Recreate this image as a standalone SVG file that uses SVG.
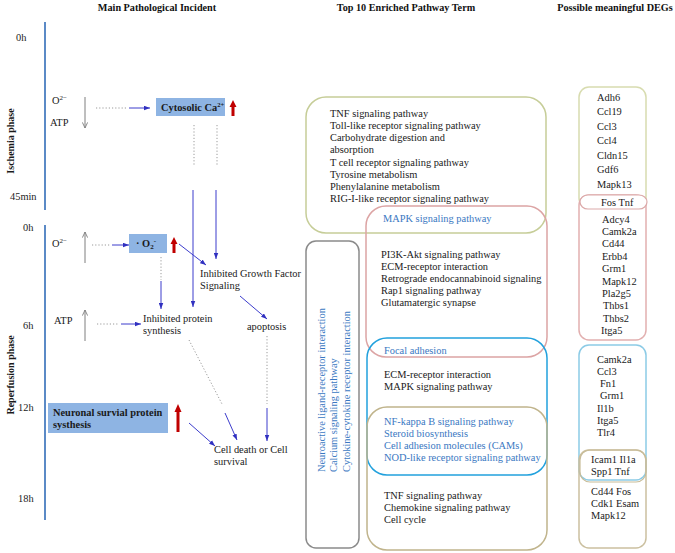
<svg xmlns="http://www.w3.org/2000/svg" width="675" height="553" viewBox="0 0 675 553">
<defs>
<style>
.t{font-family:"Liberation Serif","Times New Roman",serif;font-size:10.4px;fill:#1a1a1a}
.b{font-weight:bold}
.ttl{font-family:"Liberation Serif","Times New Roman",serif;font-size:10.2px;font-weight:bold;fill:#111}
.bl{fill:#3a78c2}
.axis{stroke:#5b8ac6;stroke-width:2;fill:none}
.bx{fill:#8eb4e3}
.red{fill:#c00000}
.dot{stroke:#9a9a9a;stroke-width:1;stroke-dasharray:1.2 2;fill:none}
.arr{stroke:#3d3dcc;stroke-width:1;fill:none;marker-end:url(#ah)}
.gar{stroke:#7f7f7f;stroke-width:1;fill:none;marker-end:url(#gh)}
.frame{fill:none;stroke-width:1.5}
</style>
<marker id="ah" viewBox="0 0 8 6" refX="8" refY="3" markerWidth="6" markerHeight="5" markerUnits="userSpaceOnUse" orient="auto">
<path d="M0,0 L8,3 L0,6 z" fill="#3030c0"/>
</marker>
<marker id="gh" viewBox="0 0 8 8" refX="7.5" refY="4" markerWidth="6" markerHeight="6" markerUnits="userSpaceOnUse" orient="auto">
<path d="M0,0.5 L7.5,4 L0,7.5" fill="none" stroke="#7f7f7f" stroke-width="1.2"/>
</marker>
</defs>
<rect width="675" height="553" fill="#ffffff"/>

<!-- Titles -->
<g id="titles">
<text class="ttl" x="157" y="11" text-anchor="middle">Main Pathological Incident</text>
<text class="ttl" x="406" y="11" text-anchor="middle">Top 10 Enriched Pathway Term</text>
<text class="ttl" x="615" y="11" text-anchor="middle">Possible meaningful DEGs</text>
</g>

<!-- Timeline -->
<g id="timeline">
<line class="axis" x1="45" y1="22" x2="45" y2="210"/>
<line class="axis" x1="45" y1="225" x2="45" y2="520"/>
<text class="t b" transform="translate(13.5,141) rotate(-90)" text-anchor="middle" style="font-size:10px">Ischemia  phase</text>
<text class="t b" transform="translate(13.5,375) rotate(-90)" text-anchor="middle" style="font-size:10px">Reperfusion phase</text>
<text class="t" x="16" y="41">0h</text>
<text class="t" x="10" y="200">45min</text>
<text class="t" x="23" y="231">0h</text>
<text class="t" x="23" y="329">6h</text>
<text class="t" x="18" y="411">12h</text>
<text class="t" x="18" y="502">18h</text>
</g>

<!-- Ischemia row -->
<g id="o2-ischemia">
<text class="t" x="52" y="104">O<tspan dy="-4" style="font-size:7px">2−</tspan></text>
<text class="t" x="50" y="126">ATP</text>
</g>
<g id="cytosolic-ca">
<rect class="bx" x="156" y="98" width="69" height="18"/>
<text class="t b" x="161" y="111">Cytosolic Ca<tspan dy="-4" style="font-size:6.5px">2+</tspan></text>
<polygon class="red" points="231.5,116 234.5,116 234.5,107 236.5,107 233,100 229.5,107 231.5,107"/>
</g>

<!-- Reperfusion -->
<g id="o2-reperfusion">
<text class="t" x="52" y="247">O<tspan dy="-4" style="font-size:7px">2−</tspan></text>
</g>
<g id="superoxide">
<rect class="bx" x="129" y="234" width="38" height="19"/>
<text class="t b" x="136" y="247">· O<tspan dy="2" style="font-size:7px">2</tspan><tspan dy="-6" style="font-size:7px">-</tspan></text>
<polygon class="red" points="172.5,253 175.5,253 175.5,244 177.5,244 174,237 170.5,244 172.5,244"/>
</g>
<g id="atp-reperfusion">
<text class="t" x="54" y="324">ATP</text>
</g>
<g id="growth-factor">
<text class="t" x="200" y="277">Inhibited Growth Factor</text>
<text class="t" x="200" y="289">Signaling</text>
</g>
<g id="protein-synthesis">
<text class="t" x="143" y="322">Inhibited protein</text>
<text class="t" x="143" y="334">synthesis</text>
</g>
<g id="apoptosis">
<text class="t" x="247" y="330">apoptosis</text>
</g>
<g id="neuronal-survival">
<rect class="bx" x="48" y="403" width="120" height="30"/>
<text class="t b" x="53" y="416">Neuronal survial protein</text>
<text class="t b" x="53" y="428">systhesis</text>
<polygon class="red" points="176.5,432 179.5,432 179.5,412 181.5,412 178,404 174.5,412 176.5,412"/>
</g>
<g id="cell-fate">
<text class="t" x="214" y="453">Cell death or Cell</text>
<text class="t" x="214" y="465">survival</text>
</g>

<!-- Connectors -->
<g id="connectors">
<line class="gar" x1="85" y1="97" x2="85" y2="128"/>
<line class="dot" x1="96" y1="108" x2="126" y2="108"/>
<line class="arr" x1="129" y1="108" x2="150" y2="108"/>
<line class="dot" x1="194" y1="125" x2="194" y2="166"/>
<line class="dot" x1="217" y1="125" x2="217" y2="166"/>
<line class="arr" x1="193" y1="190" x2="193" y2="307"/>
<line class="arr" x1="216" y1="190" x2="216" y2="259"/>
<line class="gar" x1="85" y1="263" x2="85" y2="232"/>
<line class="dot" x1="92" y1="245" x2="111" y2="245"/>
<line class="arr" x1="112" y1="245" x2="129" y2="245"/>
<line class="arr" x1="179" y1="244" x2="206" y2="265"/>
<line class="dot" x1="161" y1="257" x2="161" y2="280"/>
<line class="arr" x1="161" y1="281" x2="161" y2="309"/>
<line class="gar" x1="85" y1="341" x2="85" y2="310"/>
<line class="dot" x1="97" y1="324" x2="118" y2="324"/>
<line class="arr" x1="121" y1="324" x2="141" y2="324"/>
<line class="arr" x1="240" y1="296" x2="267" y2="319"/>
<line class="dot" x1="189" y1="340" x2="222" y2="404"/>
<line class="arr" x1="225" y1="413" x2="237" y2="440"/>
<line class="dot" x1="267" y1="336" x2="267" y2="404"/>
<line class="arr" x1="267" y1="408" x2="267" y2="441"/>
<line class="arr" x1="189" y1="423" x2="215" y2="446"/>
</g>

<!-- Middle column: pathway boxes -->
<g id="pathway-ischemia">
<rect class="frame" x="306" y="97" width="240" height="136" rx="20" stroke="#c6cd98"/>
<text class="t" x="330" y="116.5">TNF signaling pathway</text>
<text class="t" x="330" y="128.8">Toll-like receptor signaling pathway</text>
<text class="t" x="330" y="141">Carbohydrate digestion and</text>
<text class="t" x="330" y="153.3">absorption</text>
<text class="t" x="330" y="165.5">T cell receptor signaling pathway</text>
<text class="t" x="330" y="177.8">Tyrosine metabolism</text>
<text class="t" x="330" y="190">Phenylalanine metabolism</text>
<text class="t" x="330" y="202.3">RIG-I-like receptor signaling pathway</text>
</g>
<g id="pathway-0h">
<rect class="frame" x="366" y="206" width="181" height="151" rx="20" stroke="#dca4a4"/>
<text class="t bl" x="383" y="221.5">MAPK signaling pathway</text>
<text class="t" x="381" y="257.5">PI3K-Akt signaling pathway</text>
<text class="t" x="381" y="269.7">ECM-receptor interaction</text>
<text class="t" x="381" y="281.9">Retrograde endocannabinoid signaling</text>
<text class="t" x="381" y="294.1">Rap1 signaling pathway</text>
<text class="t" x="381" y="306.3">Glutamatergic synapse</text>
</g>
<g id="pathway-6h">
<rect class="frame" x="367" y="338" width="180" height="137" rx="20" stroke="#22a1dd" stroke-width="2"/>
<text class="t bl" x="384" y="353.5">Focal adhesion</text>
<text class="t" x="384" y="377.5">ECM-receptor interaction</text>
<text class="t" x="384" y="390">MAPK signaling pathway</text>
</g>
<g id="pathway-12h">
<rect class="frame" x="367" y="407" width="180" height="143" rx="20" stroke="#c0b48c"/>
<text class="t bl" x="384" y="424.5">NF-kappa B signaling pathway</text>
<text class="t bl" x="384" y="436.7">Steroid biosynthesis</text>
<text class="t bl" x="384" y="448.9">Cell adhesion molecules (CAMs)</text>
<text class="t bl" x="384" y="461.1">NOD-like receptor signaling pathway</text>
<text class="t" x="384" y="498.5">TNF signaling pathway</text>
<text class="t" x="384" y="510.7">Chemokine signaling pathway</text>
<text class="t" x="384" y="523">Cell cycle</text>
</g>
<g id="pathway-reperfusion">
<rect class="frame" x="306" y="241" width="53" height="307" rx="10" stroke="#8a8a8a"/>
<text class="t bl" transform="translate(324.5,472) rotate(-90)">Neuroactive ligand-receptor interaction</text>
<text class="t bl" transform="translate(337,472) rotate(-90)">Calcium signaling pathway</text>
<text class="t bl" transform="translate(349.5,472) rotate(-90)">Cytokine-cytokine receptor interaction</text>
</g>

<!-- Right column: DEG boxes -->
<g id="deg-ischemia">
<rect class="frame" x="579" y="87" width="67" height="121" rx="10" stroke="#d8dcb0" stroke-width="1.2"/>
<text class="t" x="597" y="100.5">Adh6</text>
<text class="t" x="597" y="115">Ccl19</text>
<text class="t" x="597" y="129.5">Ccl3</text>
<text class="t" x="597" y="144">Ccl4</text>
<text class="t" x="597" y="158.5">Cldn15</text>
<text class="t" x="597" y="173">Gdf6</text>
<text class="t" x="597" y="187.5">Mapk13</text>
</g>
<g id="deg-0h">
<rect class="frame" x="579" y="195" width="67" height="145" rx="10" stroke="#e2b0b0" stroke-width="1.2"/>
<rect x="580" y="195" width="67" height="14" rx="8" fill="#ffffff" stroke="#dcaaaa" stroke-width="1.2"/>
<text class="t" x="601" y="205.5">Fos  Tnf</text>
<text class="t" x="602" y="222.5">Adcy4</text>
<text class="t" x="602" y="234.9">Camk2a</text>
<text class="t" x="602" y="247.3">Cd44</text>
<text class="t" x="602" y="259.7">Erbb4</text>
<text class="t" x="602" y="272.1">Grm1</text>
<text class="t" x="602" y="284.5">Mapk12</text>
<text class="t" x="602" y="296.9">Pla2g5</text>
<text class="t" x="603" y="309.3">Thbs1</text>
<text class="t" x="603" y="321.7">Thbs2</text>
<text class="t" x="601" y="334.1">Itga5</text>
</g>
<g id="deg-6h">
<rect class="frame" x="579" y="345" width="67" height="135" rx="10" stroke="#8ccbe6" stroke-width="1.2"/>
<text class="t" x="597" y="362.5">Camk2a</text>
<text class="t" x="597" y="374.8">Ccl3</text>
<text class="t" x="600" y="387.1">Fn1</text>
<text class="t" x="600" y="399.4">Grm1</text>
<text class="t" x="597" y="411.7">Il1b</text>
<text class="t" x="597" y="424">Itga5</text>
<text class="t" x="597" y="436.3">Tlr4</text>
</g>
<g id="deg-12h">
<rect class="frame" x="579" y="450" width="67" height="98" rx="10" stroke="#cbc0a0" stroke-width="1.2"/>
<rect x="580" y="450" width="66" height="32" rx="10" fill="none" stroke="#c8bc98" stroke-width="1.2"/>
<text class="t" x="591" y="462.5">Icam1 Il1a</text>
<text class="t" x="591" y="474.5">Spp1 Tnf</text>
<text class="t" x="591" y="494.5">Cd44  Fos</text>
<text class="t" x="591" y="506.8">Cdk1 Esam</text>
<text class="t" x="591" y="519">Mapk12</text>
</g>
</svg>
